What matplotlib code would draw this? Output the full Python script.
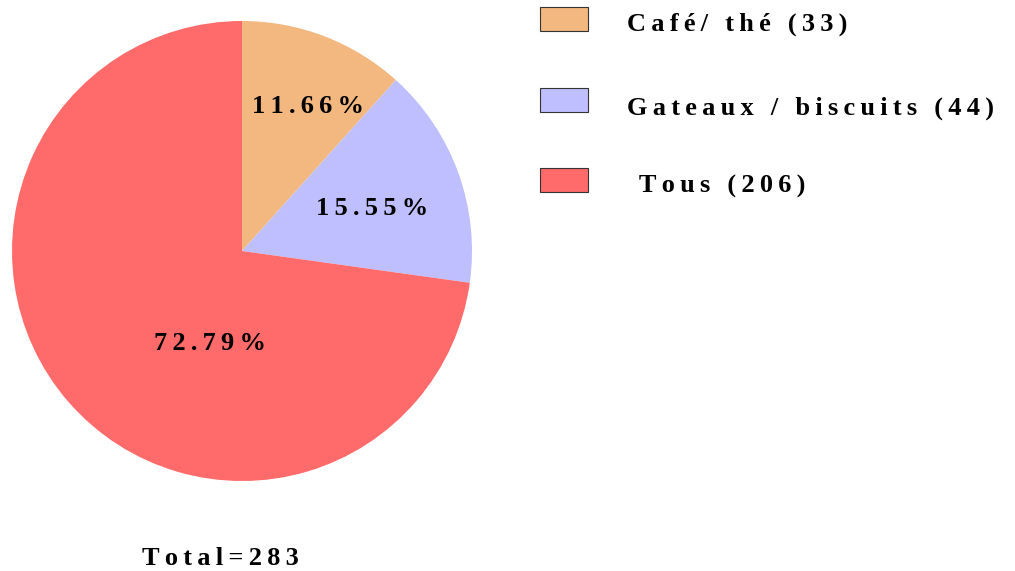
import numpy as np
import matplotlib
matplotlib.use("Agg")
import matplotlib.pyplot as plt
from matplotlib.patches import Rectangle

# data
categories = ["Café/ thé", "Gateaux / biscuits", " Tous"]
counts = [33, 44, 206]
colors = ["#F2B880", "#BFBFFF", "#FF6B6B"]

# label placement (radius fraction, angle in degrees)
label_dist = [0.665, 0.586, 0.452]
label_angle = [64.4, 15.5, -107.9]

plt.rcParams["font.family"] = ["Liberation Serif", "DejaVu Serif"]
plt.rcParams["font.weight"] = "bold"


def spaced(s):
    # the original uses wide letter spacing
    return "\u2009".join(s)


W, H = 1015, 571
fig = plt.figure(figsize=(W / 100, H / 100), dpi=100)

# pie axes: centre (242, 251), radius 230 px
cx, cy, r = 242, 251, 230
ax = fig.add_axes([(cx - r) / W, (H - cy - r) / H, 2 * r / W, 2 * r / H])
wedges, _, autotexts = ax.pie(counts, colors=colors, startangle=90, counterclock=False,
                              autopct="%.2f%%", radius=1.0,
                              wedgeprops=dict(linewidth=0),
                              textprops=dict(fontsize=19, fontweight="bold", color="black"))
ax.set_xlim(-1, 1)
ax.set_ylim(-1, 1)
ax.set_aspect("equal")
ax.axis("off")

for t, d, a in zip(autotexts, label_dist, label_angle):
    ang = np.deg2rad(a)
    t.set_text(spaced(t.get_text()))
    t.set_position((d * np.cos(ang), d * np.sin(ang)))
    t.set_va("baseline")

# legend
box_y = [19, 100, 179.5]
text_base = [31, 115, 193]
for cat, n, c, by, ty in zip(categories, counts, colors, box_y, text_base):
    fig.patches.append(Rectangle((540 / W, 1 - (by + 12) / H), 48 / W, 24 / H,
                                 transform=fig.transFigure, facecolor=c,
                                 edgecolor="#333333", linewidth=0.8))
    fig.text(627 / W, 1 - ty / H, spaced(f"{cat} ({n})"), fontsize=19,
             fontweight="bold", va="baseline", ha="left")

fig.text(220 / W, 1 - 565 / H, spaced(f"Total={sum(counts)}"), fontsize=19,
         fontweight="bold", ha="center", va="baseline")

fig.savefig("out.png", dpi=100)
